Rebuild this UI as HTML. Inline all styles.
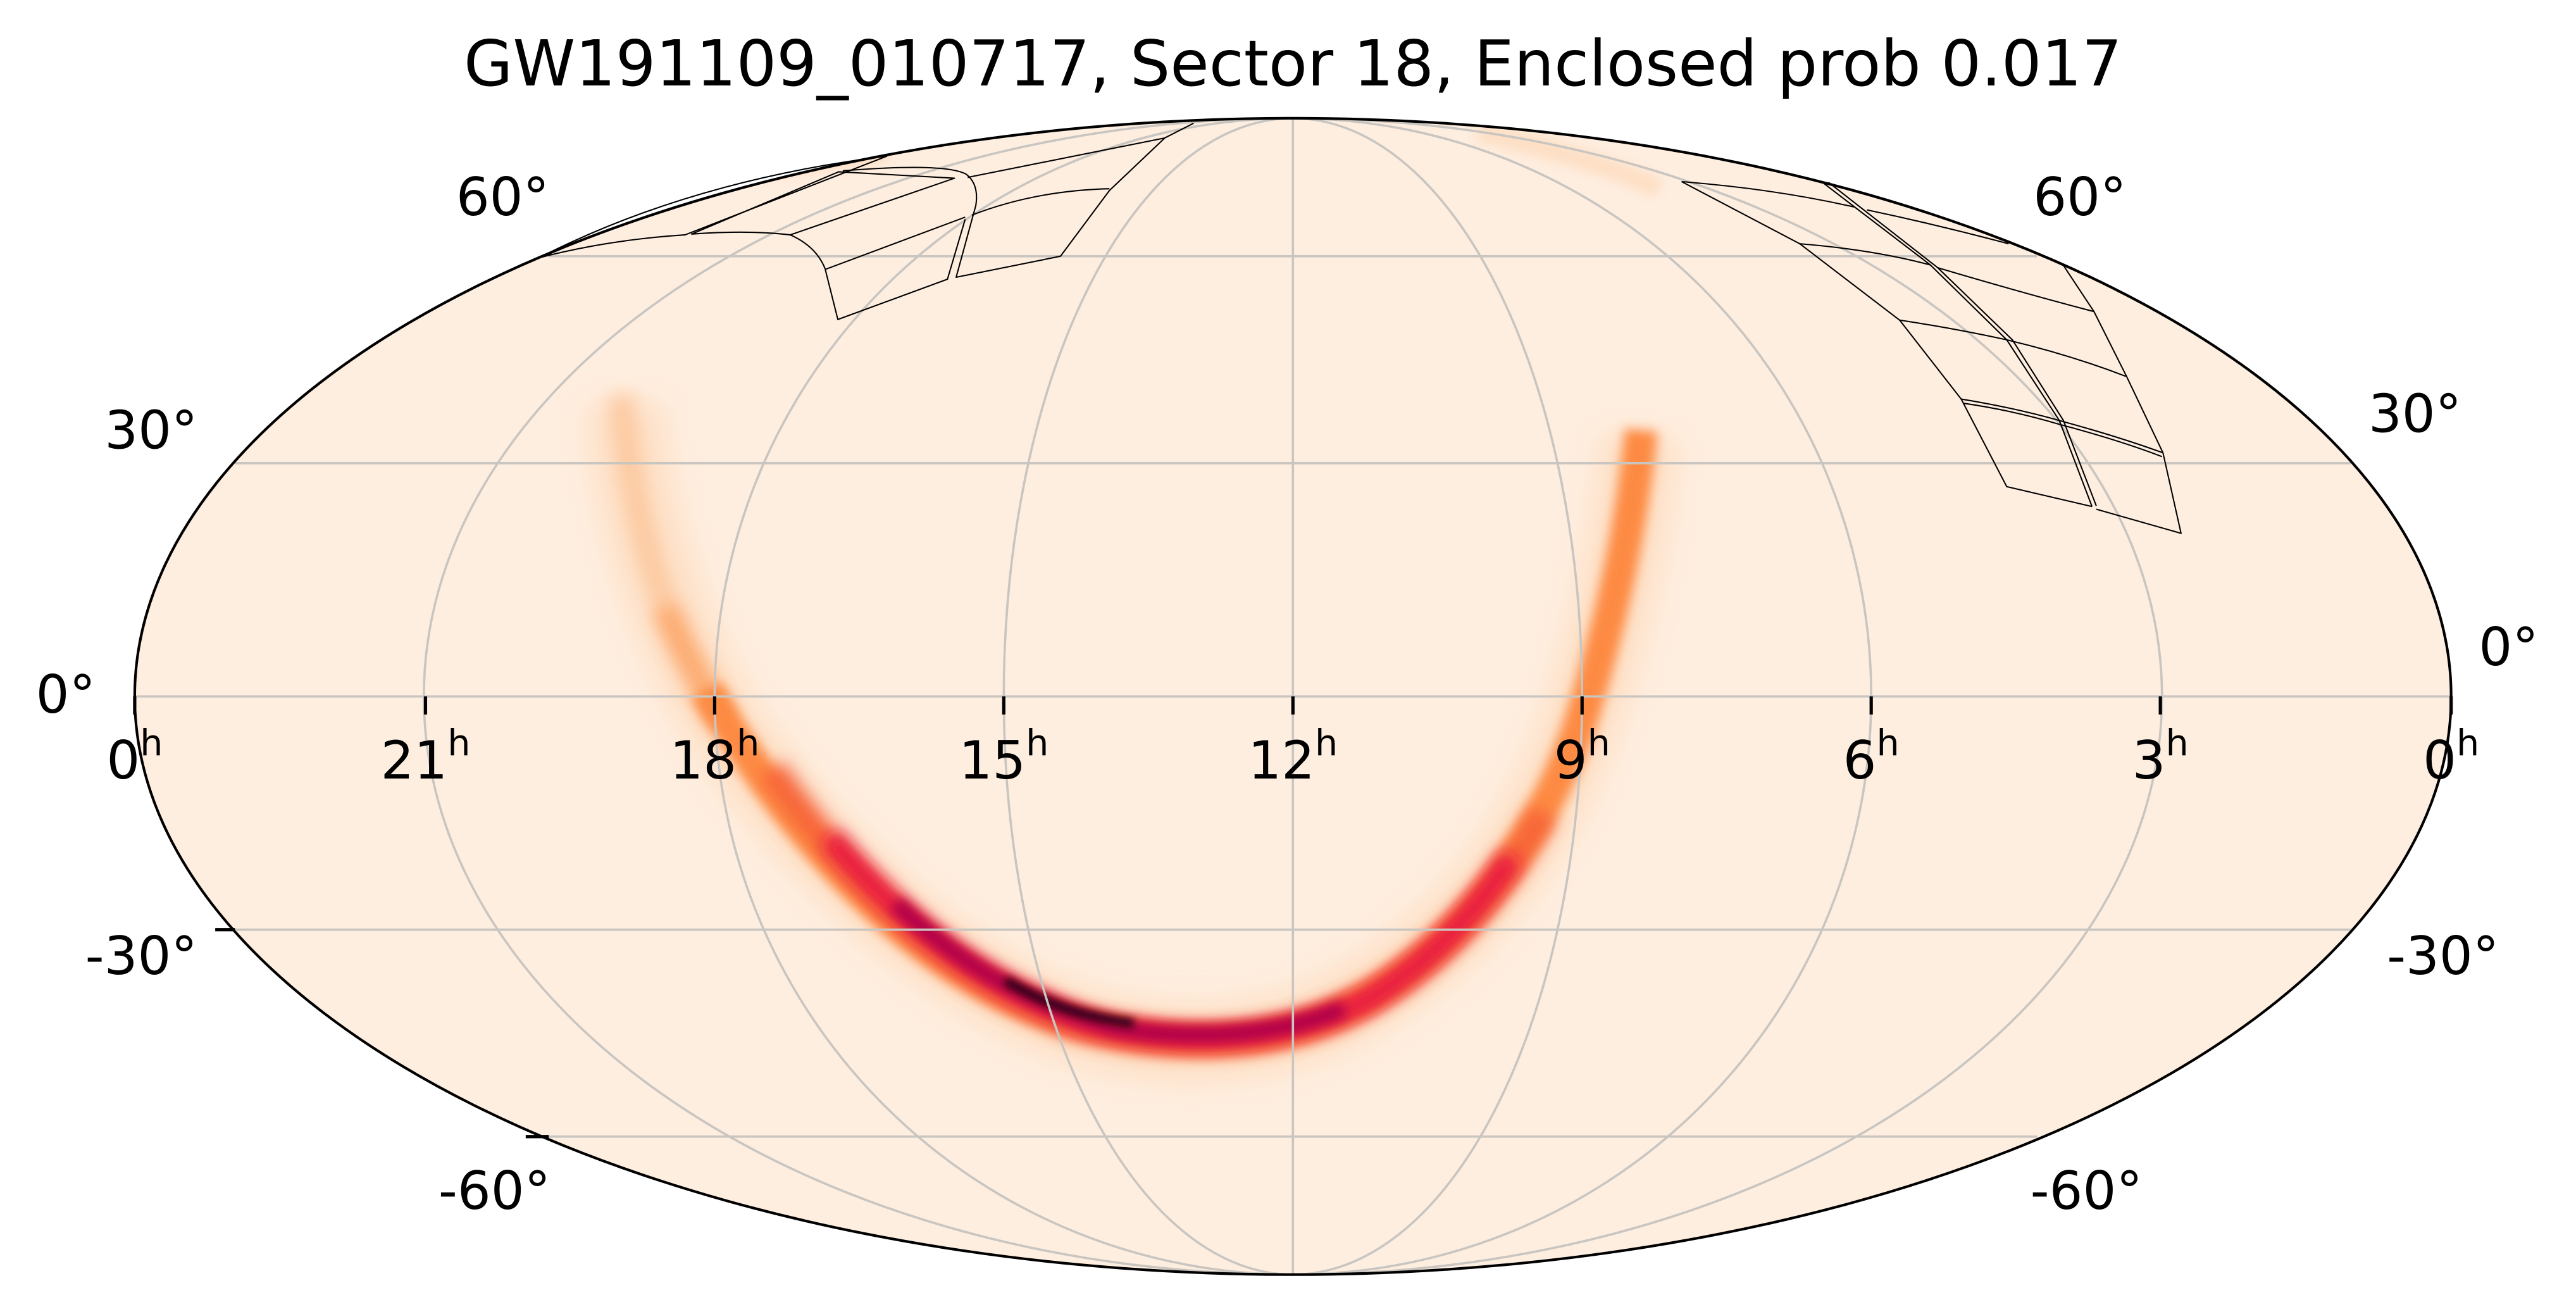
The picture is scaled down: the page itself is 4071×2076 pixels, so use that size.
<!DOCTYPE html>
<html><head><meta charset="utf-8"><style>
html,body{margin:0;padding:0;background:#fff;}
svg{display:block;}
text{font-family:"DejaVu Sans","Liberation Sans",sans-serif;fill:#000;}
</style></head><body>
<svg width="4071" height="2076" viewBox="0 0 1568 800" preserveAspectRatio="none" xmlns="http://www.w3.org/2000/svg">
<defs>
<clipPath id="ec"><ellipse cx="787" cy="424" rx="705" ry="352"/></clipPath>
<filter id="b8" filterUnits="userSpaceOnUse" x="0" y="0" width="1568" height="800"><feGaussianBlur stdDeviation="9"/></filter>
<filter id="b5" filterUnits="userSpaceOnUse" x="0" y="0" width="1568" height="800"><feGaussianBlur stdDeviation="5"/></filter>
<filter id="b4" filterUnits="userSpaceOnUse" x="0" y="0" width="1568" height="800"><feGaussianBlur stdDeviation="3.5"/></filter>
<filter id="b2" filterUnits="userSpaceOnUse" x="0" y="0" width="1568" height="800"><feGaussianBlur stdDeviation="2.5"/></filter>
</defs>
<rect width="1568" height="800" fill="#fff"/>
<ellipse cx="787" cy="424" rx="705" ry="352" fill="#feeee0"/>
<g clip-path="url(#ec)" fill="none" stroke-linecap="butt" stroke-linejoin="round">
 <path d="M380,245 C385,320 410,390 440,440 C480,500 560,590 650,622 C700,640 760,640 810,618 C880,585 935,520 962,440 C985,370 995,310 998,265" stroke="#fdd3ad" stroke-width="48" opacity="0.5" filter="url(#b8)"/>
 <path d="M470,100 C500,95 520,92 540,90" stroke="#fcc89a" stroke-width="14" opacity="0.6" filter="url(#b4)"/>
 <path d="M900,80 C950,92 990,105 1010,115" stroke="#fcc89a" stroke-width="12" opacity="0.4" filter="url(#b4)"/>
 <path d="M378,240 C385,320 405,385 440,440" stroke="#fcb986" stroke-width="16" opacity="0.55" filter="url(#b5)"/>
 <path d="M405,370 C415,395 425,410 440,440" stroke="#fd9a55" stroke-width="16" opacity="0.6" filter="url(#b5)"/>
 <path d="M430,420 C470,490 540,578 630,614 C690,638 770,641 820,614 C880,585 935,520 962,440 C982,375 993,320 999,262" stroke="#fd8a42" stroke-width="20" filter="url(#b4)"/>
 <path d="M470,468 C520,540 580,595 650,622 C710,640 780,638 830,610 C870,588 905,555 940,495" stroke="#f55a36" stroke-width="18" opacity="0.75" filter="url(#b5)"/>
 <path d="M505,510 C555,568 600,600 660,622 C720,638 780,634 830,610 C865,590 895,560 920,522" stroke="#e8163f" stroke-width="14" filter="url(#b5)"/>
 <path d="M545,550 C590,592 630,612 680,626 C730,634 780,630 818,614" stroke="#b00049" stroke-width="10" filter="url(#b4)"/>
 <path d="M612,597 C640,613 660,619 690,623" stroke="#1a0008" stroke-width="5" filter="url(#b2)"/>
</g>
<g fill="none" stroke="#c9c5c0" stroke-width="1.4" clip-path="url(#ec)">
 <line x1="82" y1="424" x2="1492" y2="424"/>
 <line x1="143" y1="282" x2="1431" y2="282"/>
 <line x1="143" y1="566" x2="1431" y2="566"/>
 <line x1="334" y1="156" x2="1240" y2="156"/>
 <line x1="334" y1="692" x2="1240" y2="692"/>
 <line x1="787" y1="72" x2="787" y2="776"/>
 <ellipse cx="787" cy="424" rx="176" ry="352"/>
 <ellipse cx="787" cy="424" rx="352" ry="352"/>
 <ellipse cx="787" cy="424" rx="529" ry="352"/>
</g>
<g fill="none" stroke="#000" stroke-width="0.8" stroke-linejoin="round">
 <path d="M328,157 Q370,146 417,143 L540,95"/>
 <path d="M421,142.5 Q455,140 481,143 L581,108.5 L510.5,104.6 Z"/>
 <path d="M481,143 Q497,150 502.4,164 L587.5,132.2"/>
 <path d="M502.4,164.3 L510,194.5 L576.7,170 L587.5,133.5"/>
 <path d="M513,104 Q575,99 588,106 Q596,112 594,125 L582,168.8 L645.5,156 L675.3,116 L709,84 L589,108"/>
 <path d="M591.5,131 Q630,116 675.3,114.9"/>
 <path d="M709,84 L726.6,75"/>
 <path d="M328,157 Q420,110 540,95"/>
 <path d="M1023.6,110.6 L1095.5,148.4 L1156.3,194.9 L1193.8,243 L1221.5,296.3 L1273.4,308.4"/>
 <path d="M1023.6,110.6 Q1080,115 1128.6,126"/>
 <path d="M1109.8,111.4 L1175,161.3 L1221.5,206.9 L1253.5,256 L1273.4,308.4"/>
 <path d="M1113,111 L1179.5,163 L1225,207 L1256,256 L1276,308"/>
 <path d="M1095.5,148.4 Q1140,152 1175,161.3"/>
 <path d="M1136.4,127.8 Q1180,137 1222.6,148.4"/>
 <path d="M1179.5,163 Q1230,178 1274.6,189.7"/>
 <path d="M1255.8,161.3 L1274.6,189.7 L1294.5,229.3 L1316.6,275.7 L1327.6,324.7 L1276,310"/>
 <path d="M1156.3,194.9 Q1190,200 1221.5,206.9 Q1260,216 1294.5,229.3"/>
 <path d="M1193.8,243 Q1225,248 1253.5,256 Q1290,266 1316.6,275.7"/>
 <path d="M1195,245.5 Q1226,250 1254,258.5 Q1290,268 1316,278"/>
</g>
<ellipse cx="787" cy="424" rx="705" ry="352" fill="none" stroke="#000" stroke-width="1.6"/>
<g stroke="#000" stroke-width="2">
 <line x1="259" y1="424" x2="259" y2="435"/>
 <line x1="435" y1="424" x2="435" y2="435"/>
 <line x1="611" y1="424" x2="611" y2="435"/>
 <line x1="787" y1="424" x2="787" y2="435"/>
 <line x1="963" y1="424" x2="963" y2="435"/>
 <line x1="1139" y1="424" x2="1139" y2="435"/>
 <line x1="1315" y1="424" x2="1315" y2="435"/>
 <line x1="82" y1="424" x2="82" y2="435"/>
 <line x1="1492" y1="424" x2="1492" y2="435"/>
 <line x1="131" y1="566" x2="143" y2="566"/>
 <line x1="320" y1="692" x2="334" y2="692"/>
</g>
<text x="787" y="52" font-size="38.5" text-anchor="middle">GW191109_010717, Sector 18, Enclosed prob 0.017</text>
<g font-size="32" text-anchor="middle">
 <text x="306" y="131">60°</text>
 <text x="1266" y="131">60°</text>
 <text x="92" y="273">30°</text>
 <text x="1470" y="263">30°</text>
 <text x="40" y="434">0°</text>
 <text x="1527" y="405">0°</text>
 <text x="86" y="593">-30°</text>
 <text x="1487" y="593">-30°</text>
 <text x="301" y="736">-60°</text>
 <text x="1270" y="736">-60°</text>
</g>
<g font-size="32" text-anchor="middle">
 <text x="82" y="474">0<tspan font-size="22" dy="-14">h</tspan></text>
 <text x="259" y="474">21<tspan font-size="22" dy="-14">h</tspan></text>
 <text x="435" y="474">18<tspan font-size="22" dy="-14">h</tspan></text>
 <text x="611" y="474">15<tspan font-size="22" dy="-14">h</tspan></text>
 <text x="787" y="474">12<tspan font-size="22" dy="-14">h</tspan></text>
 <text x="963" y="474">9<tspan font-size="22" dy="-14">h</tspan></text>
 <text x="1139" y="474">6<tspan font-size="22" dy="-14">h</tspan></text>
 <text x="1315" y="474">3<tspan font-size="22" dy="-14">h</tspan></text>
 <text x="1492" y="474">0<tspan font-size="22" dy="-14">h</tspan></text>
</g>
</svg>
</body></html>
